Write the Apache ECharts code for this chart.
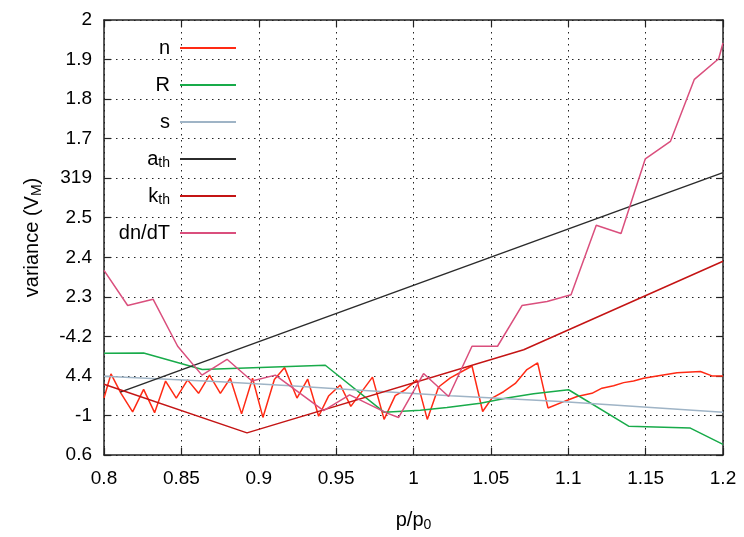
<!DOCTYPE html>
<html>
<head>
<meta charset="utf-8">
<script src="https://cdn.jsdelivr.net/npm/echarts@6/dist/echarts.min.js"></script>
<style>
  html, body { margin: 0; padding: 0; background: #fff; }
  #chart { width: 744px; height: 537px; }
</style>
</head>
<body>
<div id="chart"></div>
<script>
// Axis ranges and tick labels
const xMin = 0.8, xMax = 1.2, xStep = 0.05;
const yMin = 0.9, yMax = 2.0, yStep = 0.1;
const xTickLabels = ['0.8', '0.85', '0.9', '0.95', '1', '1.05', '1.1', '1.15', '1.2'];
const yTickLabels = ['0.6', '-1', '4.4', '-4.2', '2.3', '2.4', '2.5', '319', '1.7', '1.8', '1.9', '2'];

// Series names and legend text (rich markup for subscripts)
const seriesNames = ['n', 'R', 's', 'a_th', 'k_th', 'dn/dT'];
const legendText = {
  'n': 'n', 'R': 'R', 's': 's',
  'a_th': 'a{sub|th}', 'k_th': 'k{sub|th}', 'dn/dT': 'dn/dT'
};

// [p/p0, variance]
const nData = [
  [0.8, 1.044], [0.8045, 1.105], [0.8110, 1.056], [0.8185, 1.009], [0.8256, 1.066],
  [0.8327, 1.007], [0.8398, 1.087], [0.8467, 1.044], [0.8540, 1.090], [0.8611, 1.056],
  [0.8682, 1.102], [0.8752, 1.056], [0.8816, 1.094], [0.8889, 1.004], [0.8960, 1.094],
  [0.9027, 0.995], [0.9101, 1.091], [0.9167, 1.121], [0.9247, 1.044], [0.9316, 1.092],
  [0.9387, 0.998], [0.9451, 1.049], [0.9527, 1.077], [0.9595, 1.023], [0.9735, 1.097],
  [0.9810, 0.990], [0.9882, 1.050], [0.9947, 1.065], [1.0021, 1.090], [1.0089, 0.990],
  [1.0162, 1.072], [1.0238, 1.095], [1.0378, 1.125], [1.0447, 1.010], [1.0507, 1.044],
  [1.0582, 1.060], [1.0658, 1.081], [1.0733, 1.116], [1.0802, 1.133], [1.0869, 1.019],
  [1.0990, 1.038], [1.1057, 1.048], [1.1153, 1.056], [1.1218, 1.069], [1.1293, 1.075],
  [1.1358, 1.083], [1.1422, 1.087], [1.1487, 1.094], [1.1574, 1.100], [1.1703, 1.108],
  [1.1854, 1.111], [1.1929, 1.100], [1.2, 1.100]
];
const rData = [
  [0.8, 1.157], [0.8256, 1.158], [0.8635, 1.116], [0.9430, 1.127], [0.9811, 1.008],
  [1.0044, 1.013], [1.0216, 1.020], [1.0432, 1.031], [1.0604, 1.044], [1.0776, 1.055],
  [1.1002, 1.065], [1.1390, 0.973], [1.1789, 0.968], [1.2, 0.927]
];
const sData = [
  [0.8, 1.099], [0.8752, 1.085], [0.9204, 1.075], [0.9527, 1.067], [1.0238, 1.050],
  [1.0949, 1.035], [1.2, 1.008]
];
const athData = [
  [0.8105, 1.059], [1.2, 1.614]
];
const kthData = [
  [0.8, 1.079], [0.8924, 0.956], [1.0712, 1.166], [1.2, 1.390]
];
const dndtData = [
  [0.8, 1.367], [0.8153, 1.278], [0.8317, 1.294], [0.8476, 1.175], [0.8633, 1.102],
  [0.8795, 1.142], [0.8956, 1.087], [0.9107, 1.102], [0.9419, 1.012], [0.9587, 1.052],
  [0.9829, 1.006], [0.9904, 0.995], [1.0065, 1.106], [1.0227, 1.048], [1.0378, 1.175],
  [1.0543, 1.175], [1.0701, 1.278], [1.0863, 1.288], [1.1018, 1.305], [1.1181, 1.481],
  [1.1341, 1.460], [1.1498, 1.649], [1.1660, 1.693], [1.1815, 1.850], [1.1972, 1.902],
  [1.2, 1.942]
];

const seriesData = [nData, rData, sData, athData, kthData, dndtData];
const seriesColors = ['#ff2a14', '#18ab4a', '#9fb4c6', '#2b2b2b', '#c41414', '#da4f7d'];

const FONT = "'Liberation Sans', Arial, sans-serif";
const subStyle = { fontSize: 14, fontFamily: FONT, padding: [9, 0, 0, 0], color: '#000' };

const chart = echarts.init(document.getElementById('chart'), null, { renderer: 'canvas' });

const gridLine = { show: true, lineStyle: { color: '#222', width: 1, type: [1.5, 4.5] } };
const frameLine = { show: true, onZero: false, lineStyle: { color: '#222', width: 1.5 } };
const innerTick = { show: true, inside: true, length: 7, lineStyle: { color: '#222', width: 1.2 } };

const option = {
  animation: false,
  backgroundColor: '#fff',
  grid: { left: 104, right: 21, top: 20, bottom: 78, containLabel: false },
  legend: {
    orient: 'vertical',
    right: 508,
    top: 36,
    padding: 0,
    align: 'right',
    icon: 'rect',
    itemWidth: 56,
    itemHeight: 2,
    itemGap: 13,
    data: seriesNames,
    formatter: function (name) { return legendText[name]; },
    textStyle: {
      fontSize: 20, fontFamily: FONT, color: '#000', lineHeight: 24,
      padding: [0, 5, 0, 0],
      rich: { sub: subStyle }
    }
  },
  xAxis: [
    {
      type: 'value', min: xMin, max: xMax, interval: xStep, position: 'bottom',
      name: 'p/p{sub|0}', nameLocation: 'middle', nameGap: 54,
      nameTextStyle: { fontSize: 20, fontFamily: FONT, color: '#000', rich: { sub: subStyle } },
      axisLine: frameLine, axisTick: innerTick, splitLine: gridLine,
      axisLabel: {
        margin: 14, fontSize: 19, fontFamily: FONT, color: '#000',
        formatter: function (v) { return xTickLabels[Math.round((v - xMin) / xStep)]; }
      }
    },
    {
      type: 'value', min: xMin, max: xMax, interval: xStep, position: 'top',
      axisLine: frameLine, axisTick: innerTick, splitLine: { show: false },
      axisLabel: { show: false }
    }
  ],
  yAxis: [
    {
      type: 'value', min: yMin, max: yMax, interval: yStep, position: 'left',
      name: 'variance (V{sub|M})', nameLocation: 'middle', nameGap: 60, nameRotate: 90,
      nameTextStyle: { fontSize: 20, fontFamily: FONT, color: '#000', rich: { sub: subStyle } },
      axisLine: frameLine, axisTick: innerTick, splitLine: gridLine,
      axisLabel: {
        margin: 12, fontSize: 19, fontFamily: FONT, color: '#000',
        formatter: function (v) { return yTickLabels[Math.round((v - yMin) / yStep)]; }
      }
    },
    {
      type: 'value', min: yMin, max: yMax, interval: yStep, position: 'right',
      axisLine: frameLine, axisTick: innerTick, splitLine: { show: false },
      axisLabel: { show: false }
    }
  ],
  series: seriesNames.map(function (name, i) {
    return {
      name: name,
      type: 'line',
      xAxisIndex: 0,
      yAxisIndex: 0,
      data: seriesData[i],
      showSymbol: false,
      symbol: 'none',
      color: seriesColors[i],
      lineStyle: { width: 1.5, color: seriesColors[i] },
      emphasis: { disabled: true }
    };
  })
};

chart.setOption(option);
</script>
</body>
</html>
